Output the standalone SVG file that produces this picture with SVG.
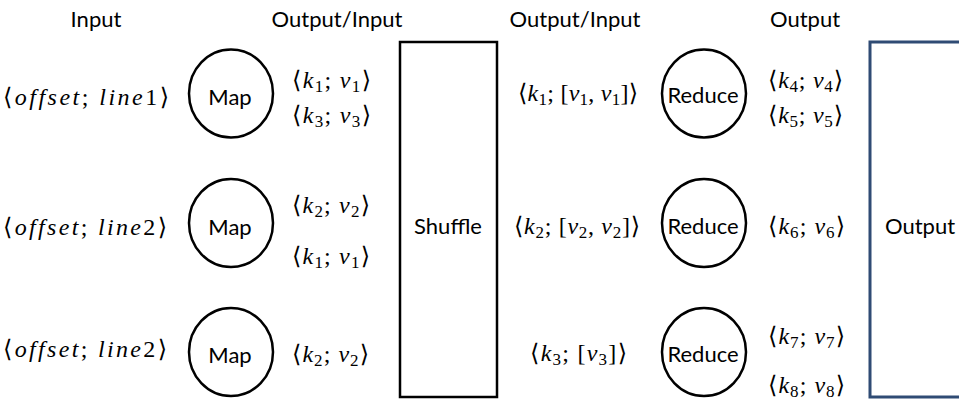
<svg xmlns="http://www.w3.org/2000/svg" width="959" height="401" viewBox="0 0 959 401">
<style>
.h{font-family:Lato,"Liberation Sans",sans-serif;font-size:22px;fill:#000;text-anchor:middle}
.m{font-family:"Liberation Serif","DejaVu Serif",serif;font-size:24px;font-style:italic;fill:#000}
.u{font-style:normal}
.s{font-style:normal;font-size:17px}
.node{fill:#fff;stroke:#000;stroke-width:2.5}
.out{fill:#fff;stroke:#2F4B74;stroke-width:3}
</style>
<rect width="959" height="401" fill="#fff"/>
<g id="headers">
<text class="h" x="96" y="27">Input</text>
<text class="h" x="337" y="27">Output/Input</text>
<text class="h" x="575" y="27">Output/Input</text>
<text class="h" x="805" y="27">Output</text>
</g>
<g id="map1"><ellipse class="node" cx="231" cy="93.5" rx="42" ry="44"/><text class="h" x="230" y="105">Map</text></g>
<g id="map2"><ellipse class="node" cx="231" cy="223" rx="42" ry="44"/><text class="h" x="230" y="235">Map</text></g>
<g id="map3"><ellipse class="node" cx="231" cy="352" rx="42" ry="44"/><text class="h" x="230" y="363">Map</text></g>
<g id="shuffle"><rect class="node" x="400" y="42" width="97" height="355"/><text class="h" x="448" y="234">Shuffle</text></g>
<g id="reduce1"><ellipse class="node" cx="704" cy="93.5" rx="42" ry="44"/><text class="h" x="703" y="103">Reduce</text></g>
<g id="reduce2"><ellipse class="node" cx="704" cy="223" rx="42" ry="44"/><text class="h" x="703" y="234">Reduce</text></g>
<g id="reduce3"><ellipse class="node" cx="704" cy="352" rx="42" ry="44"/><text class="h" x="703" y="362">Reduce</text></g>
<g id="output"><rect class="out" x="870" y="42" width="100" height="355"/><text class="h" x="920" y="234">Output</text></g>
<g id="labels">
<text class="m" x="3" y="105" textLength="166" lengthAdjust="spacing"><tspan class="u">⟨</tspan>offset<tspan class="u">; </tspan>line<tspan class="u">1⟩</tspan></text>
<text class="m" x="3" y="235" textLength="164" lengthAdjust="spacing"><tspan class="u">⟨</tspan>offset<tspan class="u">; </tspan>line<tspan class="u">2⟩</tspan></text>
<text class="m" x="3" y="357" textLength="164" lengthAdjust="spacing"><tspan class="u">⟨</tspan>offset<tspan class="u">; </tspan>line<tspan class="u">2⟩</tspan></text>

<text class="m" x="292" y="88" textLength="79" lengthAdjust="spacing"><tspan class="u">⟨</tspan>k<tspan class="s" dy="4">1</tspan><tspan class="u" dy="-4">; </tspan>v<tspan class="s" dy="4">1</tspan><tspan class="u" dy="-4">⟩</tspan></text>
<text class="m" x="292" y="123" textLength="79" lengthAdjust="spacing"><tspan class="u">⟨</tspan>k<tspan class="s" dy="4">3</tspan><tspan class="u" dy="-4">; </tspan>v<tspan class="s" dy="4">3</tspan><tspan class="u" dy="-4">⟩</tspan></text>
<text class="m" x="292" y="213" textLength="78" lengthAdjust="spacing"><tspan class="u">⟨</tspan>k<tspan class="s" dy="4">2</tspan><tspan class="u" dy="-4">; </tspan>v<tspan class="s" dy="4">2</tspan><tspan class="u" dy="-4">⟩</tspan></text>
<text class="m" x="292" y="264" textLength="78" lengthAdjust="spacing"><tspan class="u">⟨</tspan>k<tspan class="s" dy="4">1</tspan><tspan class="u" dy="-4">; </tspan>v<tspan class="s" dy="4">1</tspan><tspan class="u" dy="-4">⟩</tspan></text>
<text class="m" x="292" y="362" textLength="77" lengthAdjust="spacing"><tspan class="u">⟨</tspan>k<tspan class="s" dy="4">2</tspan><tspan class="u" dy="-4">; </tspan>v<tspan class="s" dy="4">2</tspan><tspan class="u" dy="-4">⟩</tspan></text>

<text class="m" x="518" y="101" textLength="120" lengthAdjust="spacing"><tspan class="u">⟨</tspan>k<tspan class="s" dy="4">1</tspan><tspan class="u" dy="-4">; [</tspan>v<tspan class="s" dy="4">1</tspan><tspan class="u" dy="-4">, </tspan>v<tspan class="s" dy="4">1</tspan><tspan class="u" dy="-4">]⟩</tspan></text>
<text class="m" x="514" y="234" textLength="126" lengthAdjust="spacing"><tspan class="u">⟨</tspan>k<tspan class="s" dy="4">2</tspan><tspan class="u" dy="-4">; [</tspan>v<tspan class="s" dy="4">2</tspan><tspan class="u" dy="-4">, </tspan>v<tspan class="s" dy="4">2</tspan><tspan class="u" dy="-4">]⟩</tspan></text>
<text class="m" x="530" y="361" textLength="97" lengthAdjust="spacing"><tspan class="u">⟨</tspan>k<tspan class="s" dy="4">3</tspan><tspan class="u" dy="-4">; [</tspan>v<tspan class="s" dy="4">3</tspan><tspan class="u" dy="-4">]⟩</tspan></text>

<text class="m" x="768" y="88" textLength="75" lengthAdjust="spacing"><tspan class="u">⟨</tspan>k<tspan class="s" dy="4">4</tspan><tspan class="u" dy="-4">; </tspan>v<tspan class="s" dy="4">4</tspan><tspan class="u" dy="-4">⟩</tspan></text>
<text class="m" x="768" y="123" textLength="75" lengthAdjust="spacing"><tspan class="u">⟨</tspan>k<tspan class="s" dy="4">5</tspan><tspan class="u" dy="-4">; </tspan>v<tspan class="s" dy="4">5</tspan><tspan class="u" dy="-4">⟩</tspan></text>
<text class="m" x="768" y="234" textLength="77" lengthAdjust="spacing"><tspan class="u">⟨</tspan>k<tspan class="s" dy="4">6</tspan><tspan class="u" dy="-4">; </tspan>v<tspan class="s" dy="4">6</tspan><tspan class="u" dy="-4">⟩</tspan></text>
<text class="m" x="768" y="344" textLength="77" lengthAdjust="spacing"><tspan class="u">⟨</tspan>k<tspan class="s" dy="4">7</tspan><tspan class="u" dy="-4">; </tspan>v<tspan class="s" dy="4">7</tspan><tspan class="u" dy="-4">⟩</tspan></text>
<text class="m" x="768" y="393" textLength="77" lengthAdjust="spacing"><tspan class="u">⟨</tspan>k<tspan class="s" dy="4">8</tspan><tspan class="u" dy="-4">; </tspan>v<tspan class="s" dy="4">8</tspan><tspan class="u" dy="-4">⟩</tspan></text>
</g>
</svg>
